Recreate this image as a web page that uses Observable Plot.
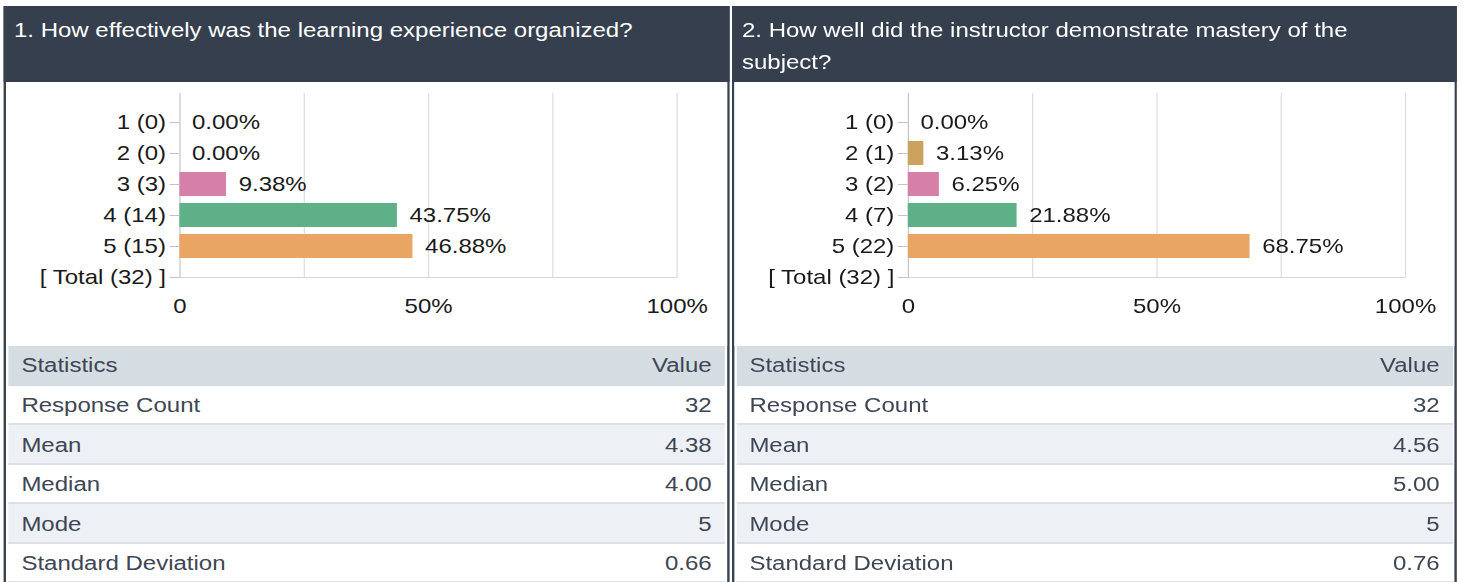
<!DOCTYPE html>
<html>
<head>
<meta charset="utf-8">
<script src="https://cdn.jsdelivr.net/npm/d3@7"></script>
<script src="https://cdn.jsdelivr.net/npm/@observablehq/plot@0.6"></script>
<style>
  html, body { margin: 0; padding: 0; background: #fff; }
  body { width: 1463px; height: 582px; position: relative; overflow: hidden;
         font-family: "Liberation Sans", Arial, sans-serif; }
  /* the reference is rendered with horizontally widened glyphs; reproduce with a uniform x-stretch */
  #root { position: absolute; left: 0; top: 0; width: 1219.2px; height: 582px;
          transform: scaleX(1.2); transform-origin: 0 0; }
  .panel { position: absolute; top: 6px; height: 590px; width: 600.2px;
           border-left: 2px solid #384352; border-right: 2px solid #384352; background: #fff; }
  .header { margin: 0 -2px; height: 76px; box-sizing: border-box; background: #353f4e;
            color: #fff; font-size: 20px; line-height: 32px; padding: 8px 40px 0 8.3px; }
  .chart svg { display: block; }
  .stats { margin: 0 1.7px; font-size: 20px; color: #3d4654; }
  .stats .row { display: flex; justify-content: space-between; align-items: center;
                padding: 0 10.8px; box-sizing: border-box; }
  .stats .row.head { height: 40px; background: #d6dde2; }
  .stats .row.body { height: 39.5px; padding-top: 2.5px; border-bottom: 2px solid #dbe1e6; }
  .stats .row.alt { background: #edf1f5; }
</style>
</head>
<body>
<div id="root"></div>
<script>
// ---- data ----
const titles = [
  "1. How effectively was the learning experience organized?",
  "2. How well did the instructor demonstrate mastery of the subject?"
];
const ratings = [1, 2, 3, 4, 5];
const counts1 = [0, 0, 3, 14, 15];
const counts2 = [0, 1, 2, 7, 22];
const percents1 = [0.00, 0.00, 9.38, 43.75, 46.88];
const percents2 = [0.00, 3.13, 6.25, 21.88, 68.75];
const totals = [32, 32];
const xTicks = [0, 50, 100];
const xTickLabels = ["0", "50%", "100%"];
const gridTicks = [25, 50, 75, 100];
const ratingColors = ["#7f9cc4", "#cba35f", "#d680a9", "#5eb089", "#e9a564"];
const statHeader = ["Statistics", "Value"];
const statNames = ["Response Count", "Mean", "Median", "Mode", "Standard Deviation"];
const stats1 = ["32", "4.38", "4.00", "5", "0.66"];
const stats2 = ["32", "4.56", "5.00", "5", "0.76"];

const FONT = '"Liberation Sans", Arial, sans-serif';
const panelLefts = [3.33, 610];

function makeRow(cls, left, right) {
  const row = document.createElement("div");
  row.className = "row " + cls;
  const a = document.createElement("span"); a.textContent = left;
  const b = document.createElement("span"); b.textContent = right;
  row.appendChild(a); row.appendChild(b);
  return row;
}

function buildPanel(idx, title, counts, percents, total, stats) {
  const panel = document.createElement("div");
  panel.className = "panel";
  panel.style.left = panelLefts[idx] + "px";
  const header = document.createElement("div");
  header.className = "header";
  header.textContent = title;
  panel.appendChild(header);

  const rows = ratings.map((r, i) => ({label: `${r} (${counts[i]})`, rating: r, pct: percents[i]}));
  const totalLabel = `[ Total (${total}) ]`;
  const domain = [...rows.map(d => d.label), totalLabel];
  const colorOf = new Map(ratings.map((r, i) => [r, ratingColors[i]]));

  const chart = Plot.plot({
    width: 600.2, height: 264,
    marginLeft: 144.5, marginRight: 41.4, marginTop: 11, marginBottom: 68,
    style: {fontFamily: FONT, fontSize: "20px", color: "#1a1a1a", background: "#fff", overflow: "visible"},
    x: {domain: [0, 100]},
    y: {type: "band", domain, range: [20.6, 215.1], padding: 0.22},
    marks: [
      Plot.gridX(gridTicks, {stroke: "#dcdcdc", strokeOpacity: 1}),
      Plot.ruleY([totalLabel], {stroke: "#d6d6d6"}),
      Plot.ruleX([0], {stroke: "#c4c4c4"}),
      Plot.barX(rows, {x: "pct", y: "label", fill: d => colorOf.get(d.rating)}),
      Plot.text(rows, {x: "pct", y: "label", text: d => d.pct.toFixed(2) + "%",
                       textAnchor: "start", dx: 10, fill: "#1a1a1a"}),
      Plot.axisY({tickSize: 8.3, tickPadding: 3.4, stroke: "#c4c4c4", fill: "#1a1a1a", label: null}),
      Plot.axisX({ticks: xTicks, tickFormat: (d) => xTickLabels[xTicks.indexOf(d)],
                  tickSize: 0, tickPadding: 20, fill: "#1a1a1a", label: null})
    ]
  });
  const chartDiv = document.createElement("div");
  chartDiv.className = "chart";
  chartDiv.appendChild(chart);
  panel.appendChild(chartDiv);

  const table = document.createElement("div");
  table.className = "stats";
  table.appendChild(makeRow("head", statHeader[0], statHeader[1]));
  statNames.forEach((name, i) => {
    table.appendChild(makeRow("body" + (i % 2 === 1 ? " alt" : ""), name, stats[i]));
  });
  panel.appendChild(table);
  document.getElementById("root").appendChild(panel);
}

buildPanel(0, titles[0], counts1, percents1, totals[0], stats1);
buildPanel(1, titles[1], counts2, percents2, totals[1], stats2);
</script>
</body>
</html>
